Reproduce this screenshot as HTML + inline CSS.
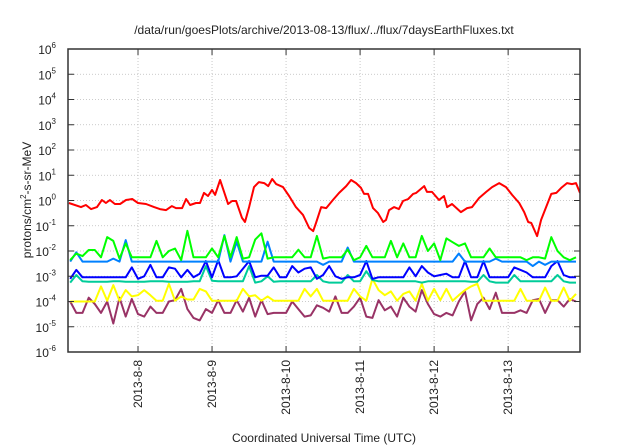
<!DOCTYPE html>
<html><head><meta charset="utf-8"><style>
html,body{margin:0;padding:0;background:#fff;}
svg{display:block;font-family:"Liberation Sans",sans-serif;}
</style></head><body>
<svg id="chart" width="640" height="448" viewBox="0 0 640 448">
<text x="324" y="34" font-size="12" text-anchor="middle" fill="#222">/data/run/goesPlots/archive/2013-08-13/flux/../flux/7daysEarthFluxes.txt</text>
<text transform="translate(31,200) rotate(-90)" font-size="12" text-anchor="middle" fill="#222">protons/cm<tspan dy="-5" font-size="8">2</tspan><tspan dy="5">-s-sr-MeV</tspan></text>
<text x="324" y="442" font-size="12" text-anchor="middle" fill="#222">Coordinated Universal Time (UTC)</text>
<g id="grid"></g><g id="series"></g><g id="axes"></g>
</svg>
<script>
// x = hours since 2013-08-08 00:00 UTC, y = log10(flux)
const xTickLabels = ["2013-8-8","2013-8-9","2013-8-10","2013-8-11","2013-8-12","2013-8-13"];
const xTickHours = [0,24,48,72,96,120];
const yTickExps = [-6,-5,-4,-3,-2,-1,0,1,2,3,4,5,6];
const redHours = [-22.4,-18.5,-16.9,-15.2,-13.3,-11.7,-10.4,-9.1,-7.5,-5.8,-3.9,-1.9,0,2.6,5.2,7.1,9.1,11.0,12.3,14.3,15.6,16.9,18.8,20.1,21.4,22.7,24.0,25.0,26.6,27.9,29.2,30.5,31.8,33.7,34.7,36.0,37.6,39.2,40.9,42.2,43.5,44.8,47.0,49.0,51.2,53.5,55.5,56.8,57.7,59.4,61.0,63.2,65.2,67.5,69.1,70.7,72.3,73.3,74.6,76.2,77.8,79.5,80.4,81.4,83.0,84.6,85.9,87.6,89.2,90.2,92.8,93.7,95.3,97.6,99.2,100.2,101.8,104.7,106.7,108.3,110.6,112.9,114.8,117.1,119.3,121.3,123.6,125.2,126.5,127.5,129.4,130.7,132.3,134.0,135.6,137.2,139.1,140.7,142.0,143.3];
const redLog = [-0.10,-0.26,-0.18,-0.34,-0.26,0.02,-0.10,0.02,-0.14,-0.14,0.02,0.06,-0.10,-0.14,-0.26,-0.34,-0.38,-0.22,-0.30,-0.30,0.06,-0.18,-0.10,-0.10,0.30,0.18,0.42,0.22,0.81,0.34,-0.14,-0.02,-0.02,-0.69,-0.85,-0.26,0.53,0.73,0.69,0.57,0.85,0.65,0.53,0.18,-0.26,-0.57,-1.09,-1.21,-0.89,-0.26,-0.30,0.02,0.30,0.57,0.81,0.69,0.50,0.26,0.26,-0.30,-0.50,-0.85,-0.77,-0.38,-0.26,-0.34,-0.02,0.06,0.26,0.30,0.57,0.34,0.34,0.02,0.18,-0.26,-0.14,-0.46,-0.30,-0.26,0.10,0.34,0.53,0.69,0.53,0.22,-0.10,-0.46,-0.85,-0.89,-1.41,-0.77,-0.26,0.26,0.30,0.50,0.69,0.65,0.69,0.30];
const gridHours = [-22,-20,-18,-16,-14,-12,-10,-8,-6,-4,-2,0,2,4,6,8,10,12,14,16,18,20,22,24,26,28,30,32,34,36,38,40,42,44,46,48,50,52,54,56,58,60,62,64,66,68,70,72,74,76,78,80,82,84,86,88,90,92,94,96,98,100,102,104,106,108,110,112,114,116,118,120,122,124,126,128,130,132,134,136,138,140,142];
const greenLog = [-2.36,-2.1,-2.2,-1.96,-1.96,-2.25,-1.45,-1.6,-2.3,-1.7,-2.25,-2.25,-2.25,-2.25,-1.6,-2.25,-2.0,-1.9,-2.36,-1.2,-2.25,-2.25,-2.25,-1.9,-2.25,-1.4,-2.25,-1.45,-2.3,-2.25,-1.55,-1.3,-2.3,-2.25,-2.25,-2.25,-2.25,-1.95,-2.25,-2.25,-1.4,-2.3,-2.25,-2.25,-2.25,-1.95,-2.36,-2.25,-1.8,-2.25,-2.25,-2.25,-1.6,-2.25,-1.7,-2.25,-2.25,-1.4,-2.0,-1.7,-2.36,-1.5,-1.65,-1.8,-1.7,-2.25,-2.25,-2.25,-1.9,-2.25,-2.25,-2.25,-2.25,-2.25,-2.36,-2.25,-2.25,-2.3,-1.45,-2.0,-2.25,-2.36,-2.25];
const lightBlueLog = [-2.42,-2.05,-2.42,-2.42,-2.42,-2.42,-2.42,-2.3,-2.42,-1.57,-2.42,-2.42,-2.42,-2.42,-2.42,-2.42,-2.42,-2.42,-2.42,-2.42,-2.42,-2.42,-2.42,-2.42,-2.42,-1.37,-2.42,-1.63,-2.42,-2.42,-2.42,-2.42,-1.63,-2.42,-2.42,-2.42,-2.42,-2.42,-2.42,-2.42,-2.42,-2.55,-2.42,-2.42,-2.42,-1.86,-2.42,-2.42,-2.42,-2.42,-2.42,-2.42,-2.42,-2.42,-2.42,-2.42,-2.42,-2.42,-2.42,-2.42,-2.42,-2.42,-2.42,-2.1,-2.42,-2.42,-2.42,-2.42,-2.42,-2.3,-2.42,-2.42,-2.42,-2.42,-2.42,-2.6,-2.42,-2.55,-2.42,-2.42,-2.42,-2.42,-2.42];
const blueLog = [-3.1,-2.75,-3.04,-3.04,-3.04,-3.04,-3.04,-3.04,-3.04,-3.04,-2.65,-3.1,-3.0,-2.55,-3.04,-3.04,-2.65,-2.7,-3.04,-2.75,-3.04,-2.9,-2.4,-3.04,-2.36,-3.04,-3.04,-3.0,-2.7,-2.4,-3.04,-2.98,-2.98,-2.65,-3.04,-3.04,-2.6,-2.85,-2.7,-2.65,-3.1,-2.95,-2.6,-3.0,-3.1,-3.04,-3.04,-2.95,-2.4,-3.1,-3.04,-3.04,-3.04,-3.04,-3.04,-2.65,-3.0,-2.6,-2.85,-3.0,-2.95,-2.9,-3.04,-3.04,-2.4,-3.04,-3.04,-2.4,-3.04,-3.04,-3.04,-3.04,-2.65,-2.75,-2.85,-3.04,-3.04,-3.04,-2.6,-2.4,-2.95,-3.04,-3.04];
const tealLog = [-3.25,-2.95,-3.2,-3.22,-3.22,-3.22,-3.22,-3.2,-3.2,-3.22,-3.22,-3.22,-3.22,-3.2,-3.2,-3.2,-3.22,-3.22,-3.22,-3.22,-3.2,-3.2,-2.6,-3.18,-3.2,-3.2,-3.2,-3.2,-3.2,-2.6,-3.25,-3.2,-3.0,-3.22,-3.2,-3.2,-3.2,-3.2,-3.2,-3.2,-2.95,-3.2,-3.25,-3.25,-3.25,-2.95,-3.2,-3.2,-2.8,-3.15,-3.2,-3.2,-3.2,-3.2,-3.2,-3.2,-3.2,-3.25,-3.2,-3.2,-3.2,-3.2,-3.2,-3.2,-3.2,-3.22,-3.22,-2.95,-3.2,-3.25,-3.25,-3.25,-2.95,-3.2,-3.2,-3.2,-3.2,-3.2,-3.2,-2.95,-3.2,-3.25,-3.25];
const yellowLog = [-4.0,-4.0,-4.0,-4.0,-4.0,-3.4,-3.97,-3.35,-3.97,-3.55,-3.8,-3.75,-3.55,-3.75,-3.97,-3.97,-3.3,-3.97,-3.8,-3.92,-3.92,-3.5,-3.6,-3.97,-3.97,-3.97,-3.97,-3.97,-3.5,-3.8,-3.75,-3.97,-3.8,-3.97,-3.97,-3.97,-3.97,-3.97,-3.5,-3.8,-3.5,-3.97,-3.97,-3.97,-3.97,-3.97,-3.5,-3.8,-3.97,-3.1,-3.55,-3.75,-3.6,-3.97,-3.7,-3.6,-3.97,-3.3,-3.97,-3.5,-3.95,-3.5,-3.97,-3.75,-3.55,-3.4,-3.3,-3.97,-3.97,-3.97,-3.97,-3.97,-3.97,-3.5,-3.97,-3.97,-3.97,-3.45,-3.97,-3.97,-3.45,-3.97,-3.7];
const purpleLog = [-4.0,-4.45,-4.45,-3.85,-4.1,-4.45,-4.0,-4.87,-3.85,-4.6,-3.9,-4.5,-4.6,-4.2,-4.45,-4.45,-4.0,-3.95,-3.5,-4.3,-4.65,-4.75,-4.3,-4.45,-3.95,-4.45,-4.45,-3.95,-4.4,-3.85,-4.6,-3.95,-4.5,-4.45,-4.45,-4.45,-4.0,-4.3,-4.6,-4.55,-4.15,-4.25,-4.4,-3.8,-4.45,-4.45,-4.2,-3.85,-4.6,-4.65,-3.95,-4.35,-4.2,-4.6,-3.85,-4.2,-4.4,-3.55,-4.1,-4.5,-4.6,-4.45,-4.55,-4.0,-3.6,-4.75,-4.1,-3.85,-4.3,-3.65,-4.45,-4.45,-4.45,-4.35,-4.45,-3.95,-3.9,-4.45,-3.95,-3.95,-4.2,-3.9,-4.0];

const L=68,R=580,T=49,B=352, H0=-22.7, H1=143.3, E0=-6, E1=6;
const xs = h => L + (h-H0)/(H1-H0)*(R-L);
const ys = e => B - (e-E0)/(E1-E0)*(B-T);
const NS="http://www.w3.org/2000/svg";
function mk(tag, attrs, parent){const el=document.createElementNS(NS,tag);for(const k in attrs)el.setAttribute(k,attrs[k]);parent.appendChild(el);return el;}
const grid=document.getElementById('grid'), axes=document.getElementById('axes'), series=document.getElementById('series');

yTickExps.forEach(e=>{
  const y=ys(e);
  if(e>E0&&e<E1){const g=mk('line',{x1:L,x2:R,y1:y,y2:y,stroke:'#bbb','stroke-width':0.8,'stroke-dasharray':'1,2'},grid);
  
  }
  const t1=mk('line',{x1:L,x2:L+6,y1:y,y2:y,stroke:'#333','stroke-width':1},axes);
  
  
  const t2=mk('line',{x1:R-6,x2:R,y1:y,y2:y,stroke:'#333','stroke-width':1},axes);
  
  
  const tx=mk('text',{x:56,y:y+5,'font-size':12,'text-anchor':'end',fill:'#222'},axes);
  
  
  tx.textContent='10';
  const sp=mk('tspan',{dy:-6,'font-size':8},tx); sp.textContent=String(e);
});
xTickHours.forEach((h,i)=>{
  const x=xs(h);
  const g=mk('line',{x1:x,x2:x,y1:T,y2:B,stroke:'#bbb','stroke-width':0.8,'stroke-dasharray':'1,2'},grid);
  
  
  const t1=mk('line',{x1:x,x2:x,y1:B-6,y2:B,stroke:'#333','stroke-width':1},axes);
  
  
  const t2=mk('line',{x1:x,x2:x,y1:T,y2:T+6,stroke:'#333','stroke-width':1},axes);
  
  
  const tx=mk('text',{transform:`translate(${x+4},360) rotate(-90)`,'font-size':12,'text-anchor':'end',fill:'#222'},axes);
  
  
  tx.textContent=xTickLabels[i];
});
const border=mk('rect',{x:L,y:T,width:R-L,height:B-T,fill:'none',stroke:'#333','stroke-width':1.5},axes);



mk('clipPath',{id:'clip'},document.getElementById('chart'));
mk('rect',{x:L,y:T,width:R-L,height:B-T},document.getElementById('clip'));
series.setAttribute('clip-path','url(#clip)');
function drawLine(hours, vals, color, name){
  const d=vals.map((v,i)=>(i?'L':'M')+xs(hours[i]).toFixed(1)+','+ys(v).toFixed(1)).join('');
  const p=mk('path',{d:d,fill:'none',stroke:color,'stroke-width':2,'stroke-linejoin':'round'},series);
  
  
}
drawLine(gridHours,purpleLog,'#993366','purple-series');
drawLine(gridHours,yellowLog,'#ffff00','yellow-series');
drawLine(gridHours,tealLog,'#00cc99','teal-series');
drawLine(gridHours,blueLog,'#0000ff','blue-series');
drawLine(gridHours,lightBlueLog,'#0080ff','light-blue-series');
drawLine(gridHours,greenLog,'#00ff00','green-series');
drawLine(redHours,redLog,'#ff0000','red-series');
</script>
</body></html>
